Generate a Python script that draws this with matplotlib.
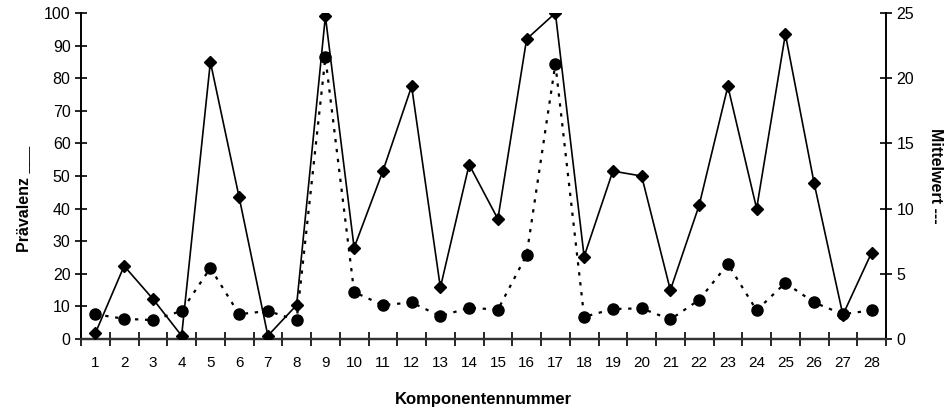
import matplotlib.pyplot as plt
import numpy as np

plt.rcParams['font.family'] = ['Liberation Sans', 'DejaVu Sans']

# Komponentennummer 1..28
komponenten = list(range(1, 29))

# Prävalenz (linke Achse, 0-100)
praevalenz = [1.8, 22.4, 12.3, 1, 85, 43.5, 1, 10.4, 99, 28,
              51.5, 77.5, 15.8, 53.5, 36.8, 92, 100, 25.3, 51.5, 50,
              15, 41, 77.5, 40, 93.5, 47.8, 7.4, 26.5]

# Mittelwert (rechte Achse, 0-25)
mittelwert = [1.9, 1.55, 1.45, 2.15, 5.45, 1.9, 2.15, 1.45, 21.6, 3.6,
              2.6, 2.8, 1.75, 2.4, 2.25, 6.45, 21.1, 1.7, 2.3, 2.35,
              1.5, 3.0, 5.75, 2.2, 4.3, 2.8, 1.9, 2.2]

fig = plt.figure(figsize=(9.46, 4.08), dpi=100)
ax = fig.add_axes([81 / 946, 1 - 339 / 408, (886 - 81) / 946, (339 - 13) / 408])
ax2 = ax.twinx()

x = np.array(komponenten)
ax.plot(x, praevalenz, color='black', lw=1.2, marker='D', ms=6.5, zorder=3)
ax2.plot(x, mittelwert, color='black', lw=1.6, ls=(0, (1.5, 3)), marker='o', ms=8, zorder=3)

ax.set_xlim(0.5, 28.5)
ax.set_ylim(0, 100)
ax2.set_ylim(0, 25)
ax.set_yticks(range(0, 101, 10))
ax2.set_yticks(range(0, 26, 5))
ax.set_xticks(x)
ax.set_xticklabels([str(k) for k in komponenten])
ax.set_xticks(np.arange(0.5, 29, 1), minor=True)

for a in (ax, ax2):
    a.spines['top'].set_visible(False)
    a.spines['left'].set_linewidth(1.2)
    a.spines['right'].set_linewidth(1.2)
    a.spines['bottom'].set_linewidth(1.6)
    a.spines['bottom'].set_color('#333333')

ax.tick_params(axis='x', which='major', length=0, labelsize=11, pad=12)
ax.tick_params(axis='x', which='minor', direction='inout', length=10, width=1.2)
ax.tick_params(axis='y', direction='inout', length=9, width=1.2, labelsize=11.5, pad=3)
ax2.tick_params(axis='y', direction='inout', length=9, width=1.2, labelsize=11.5, pad=3)

ax.set_ylabel('Prävalenz ___', fontsize=11.5, fontweight='bold')
ax.yaxis.set_label_coords(-0.062, 0.43)
ax2.set_ylabel('Mittelwert ---', fontsize=11.5, fontweight='bold', rotation=-90,
               va='center')
ax2.yaxis.set_label_coords(1.062, 0.5)
ax.set_xlabel('Komponentennummer', fontsize=12, fontweight='bold', labelpad=16)

ax.set_zorder(ax2.get_zorder() + 1)
ax.patch.set_visible(False)

fig.savefig('out.png', dpi=100)
